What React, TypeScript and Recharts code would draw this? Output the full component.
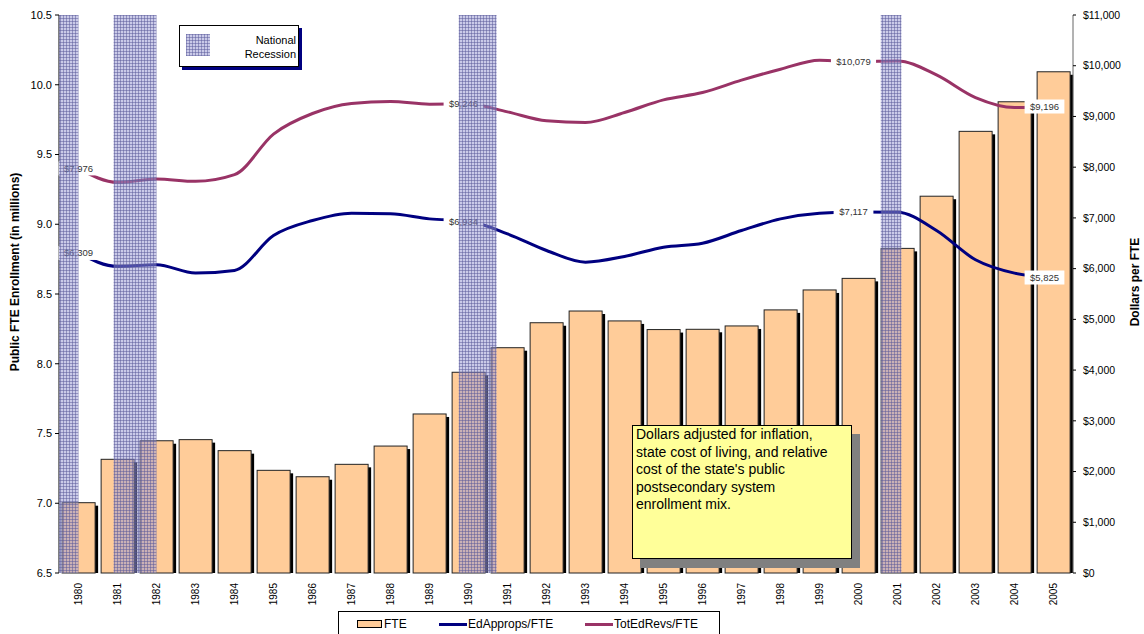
import React from "react";
import { ComposedChart, Bar, Line, XAxis, YAxis, ReferenceArea } from "recharts";

// enrollment + funding per FTE, 1980-2005
const years = [
  "1980", "1981", "1982", "1983", "1984", "1985", "1986", "1987", "1988", "1989",
  "1990", "1991", "1992", "1993", "1994", "1995", "1996", "1997", "1998", "1999",
  "2000", "2001", "2002", "2003", "2004", "2005",
];
const fte = [
  7.004, 7.315, 7.448, 7.456, 7.377, 7.236, 7.19, 7.279, 7.41, 7.64,
  7.939, 8.115, 8.294, 8.378, 8.307, 8.245, 8.247, 8.271, 8.386, 8.529,
  8.612, 8.827, 9.201, 9.666, 9.878, 10.093,
];
const edApprops = [
  6309, 6043, 6077, 5912, 5965, 6653, 6948, 7092, 7080, 6981,
  6934, 6686, 6358, 6128, 6240, 6423, 6502, 6751, 6981, 7092,
  7117, 7111, 6751, 6175, 5912, 5825,
];
const totEdRevs = [
  7976, 7701, 7768, 7721, 7852, 8653, 9058, 9255, 9294, 9243,
  9246, 9090, 8914, 8881, 9078, 9327, 9471, 9715, 9931, 10108,
  10079, 10094, 9819, 9373, 9176, 9196,
];
// recession periods as fractional years
const recessionStart = [1980.0, 1981.4, 1990.25, 2001.07];
const recessionEnd = [1980.5, 1982.5, 1991.22, 2001.6];
const labeledYears = ["1980", "1990", "2000", "2005"];
const leftTicks = [6.5, 7, 7.5, 8, 8.5, 9, 9.5, 10, 10.5];
const rightTicks = [0, 1000, 2000, 3000, 4000, 5000, 6000, 7000, 8000, 9000, 10000, 11000];
const yearBounds = [...years.map(Number), 2006];

const data = years.map((year, i) => ({
  year,
  yr: Number(year),
  fte: fte[i],
  edApprops: edApprops[i],
  totEdRevs: totEdRevs[i],
}));

const FONT = "'Liberation Sans', Arial, sans-serif";
const money = (v: number) => "$" + v.toLocaleString("en-US");

function ShadowBar(props: any) {
  const { x, y, width, height } = props;
  if (height <= 0) return null;
  return (
    <g>
      <rect x={x + 3} y={y + 3} width={width} height={height - 3} fill="#000" />
      <rect x={x} y={y} width={width} height={height} fill="#FFCC99" stroke="#222" strokeWidth={1} />
    </g>
  );
}

function YearTick({ x, y, payload }: any) {
  return (
    <text
      x={x}
      y={y}
      transform={`rotate(-90 ${x} ${y})`}
      textAnchor="end"
      dominantBaseline="central"
      fontSize={10}
      fill="#000"
    >
      {payload.value}
    </text>
  );
}

function PointLabel(props: any) {
  const { x, y, value, index } = props;
  if (!labeledYears.includes(years[index])) return null;
  const text = money(value);
  const w = text.length * 5.3 + 8;
  let cx = x;
  if (index > 0) cx = x - 5;
  if (index === years.length - 1) cx = x - 9;
  return (
    <g>
      <rect x={cx - w / 2} y={y - 7} width={w} height={14} fill="#fff" />
      <text x={cx} y={y} textAnchor="middle" dominantBaseline="central" fontSize={9.5} fill="#333">
        {text}
      </text>
    </g>
  );
}

function LeftTitle({ viewBox }: any) {
  const x = viewBox.x + 15;
  const y = viewBox.y + viewBox.height / 2 - 22;
  return (
    <text x={x} y={y} transform={`rotate(-90 ${x} ${y})`} textAnchor="middle" dominantBaseline="central" fontSize={12} fontWeight="bold" fill="#000">
      Public FTE Enrollment (in millions)
    </text>
  );
}

function RightTitle({ viewBox }: any) {
  const x = viewBox.x + viewBox.width - 9;
  const y = viewBox.y + viewBox.height / 2 - 12;
  return (
    <text x={x} y={y} transform={`rotate(-90 ${x} ${y})`} textAnchor="middle" dominantBaseline="central" fontSize={12} fontWeight="bold" fill="#000">
      Dollars per FTE
    </text>
  );
}

const hatch =
  "repeating-linear-gradient(0deg, rgba(90,90,154,0.5) 0 1px, transparent 1px 3px), repeating-linear-gradient(90deg, rgba(90,90,154,0.5) 0 1px, transparent 1px 3px), rgba(150,150,210,0.5)";

export default function App() {
  return (
    <div style={{ position: "absolute", left: 0, top: 0, width: 1144, height: 634, fontFamily: FONT, background: "#fff" }}>
      <ComposedChart width={1144} height={634} data={data} margin={{ top: 15, right: 0, bottom: 0, left: 0 }} barCategoryGap="8%">
        <defs>
          <pattern id="recess" width="3" height="3" patternUnits="userSpaceOnUse">
            <rect width="3" height="3" fill="#9696d2" fillOpacity={0.5} />
            <path d="M0 0.5H3M0.5 0V3" stroke="#5a5a9a" strokeWidth={1} strokeOpacity={0.5} />
          </pattern>
        </defs>
        <XAxis
          xAxisId="t"
          type="number"
          dataKey="yr"
          domain={[1980, 2006]}
          allowDataOverflow
          ticks={yearBounds}
          tickFormatter={() => ""}
          tickSize={4}
          height={0}
          axisLine={{ stroke: "#000" }}
          tickLine={{ stroke: "#000" }}
        />
        <XAxis
          xAxisId="cat"
          dataKey="year"
          interval={0}
          axisLine={false}
          tickLine={false}
          tickMargin={4}
          height={61}
          tick={<YearTick />}
        />
        <YAxis
          yAxisId="left"
          width={59}
          domain={[6.5, 10.5]}
          ticks={leftTicks}
          tickFormatter={(v: number) => v.toFixed(1)}
          tick={{ fill: "#000", fontSize: 11 }}
          tickSize={4}
          tickMargin={3}
          axisLine={{ stroke: "#000" }}
          tickLine={{ stroke: "#000" }}
          label={{ content: (p: any) => <LeftTitle {...p} /> }}
        />
        <YAxis
          yAxisId="right"
          orientation="right"
          width={71}
          domain={[0, 11000]}
          ticks={rightTicks}
          tickFormatter={money}
          tick={{ fill: "#000", fontSize: 10.5, textAnchor: "start" }}
          tickSize={3}
          tickMargin={7}
          axisLine={{ stroke: "#666" }}
          tickLine={{ stroke: "#000" }}
          label={{ content: (p: any) => <RightTitle {...p} /> }}
        />
        <Bar xAxisId="cat" yAxisId="left" dataKey="fte" name="FTE" shape={<ShadowBar />} isAnimationActive={false} />
        <Line
          xAxisId="cat"
          yAxisId="right"
          type="monotone"
          dataKey="edApprops"
          name="EdApprops/FTE"
          stroke="#000080"
          strokeWidth={3}
          dot={false}
          label={<PointLabel />}
          isAnimationActive={false}
        />
        <Line
          xAxisId="cat"
          yAxisId="right"
          type="monotone"
          dataKey="totEdRevs"
          name="TotEdRevs/FTE"
          stroke="#993366"
          strokeWidth={3}
          dot={false}
          label={<PointLabel />}
          isAnimationActive={false}
        />
        {recessionStart.map((s, i) => (
          <ReferenceArea
            key={i}
            xAxisId="t"
            yAxisId="left"
            x1={s}
            x2={recessionEnd[i]}
            fill="url(#recess)"
            fillOpacity={1}
            stroke="none"
            ifOverflow="hidden"
            zIndex={2500}
          />
        ))}
      </ComposedChart>

      {/* recession key */}
      <div
        style={{
          position: "absolute", left: 179, top: 25, width: 118, height: 40,
          background: "#fff", border: "1px solid #000", boxShadow: "3px 3px 0 #000080",
          fontSize: 11, lineHeight: "14px",
        }}
      >
        <div style={{ position: "absolute", left: 6, top: 8, width: 24, height: 22, background: hatch }} />
        <div style={{ position: "absolute", right: 2, top: 7, textAlign: "right" }}>
          National<br />Recession
        </div>
      </div>

      {/* note box */}
      <div
        style={{
          position: "absolute", left: 632, top: 425, width: 215, height: 132,
          background: "#FFFF99", border: "1px solid #000", boxShadow: "8px 9px 0 #808080",
          fontSize: 14, lineHeight: "17.6px", padding: "0 0 0 3px", boxSizing: "content-box",
        }}
      >
        Dollars adjusted for inflation,<br />state cost of living, and relative<br />cost of the state's public<br />
        postsecondary system<br />enrollment mix.
      </div>

      {/* legend */}
      <div
        style={{
          position: "absolute", left: 338, top: 611, width: 380, height: 30,
          border: "1px solid #000", background: "#fff", fontSize: 12,
        }}
      >
        <div style={{ position: "absolute", left: 18, top: 5, display: "flex", alignItems: "center" }}>
          <span style={{ width: 23, height: 6, background: "#FFCC99", border: "1.5px solid #000", marginRight: 2 }} />
          <span>FTE</span>
        </div>
        <div style={{ position: "absolute", left: 100, top: 5, display: "flex", alignItems: "center" }}>
          <span style={{ width: 28, height: 3, background: "#000080", marginRight: 1 }} />
          <span>EdApprops/FTE</span>
        </div>
        <div style={{ position: "absolute", left: 246, top: 5, display: "flex", alignItems: "center" }}>
          <span style={{ width: 28, height: 3, background: "#993366", marginRight: 1 }} />
          <span>TotEdRevs/FTE</span>
        </div>
      </div>
    </div>
  );
}
